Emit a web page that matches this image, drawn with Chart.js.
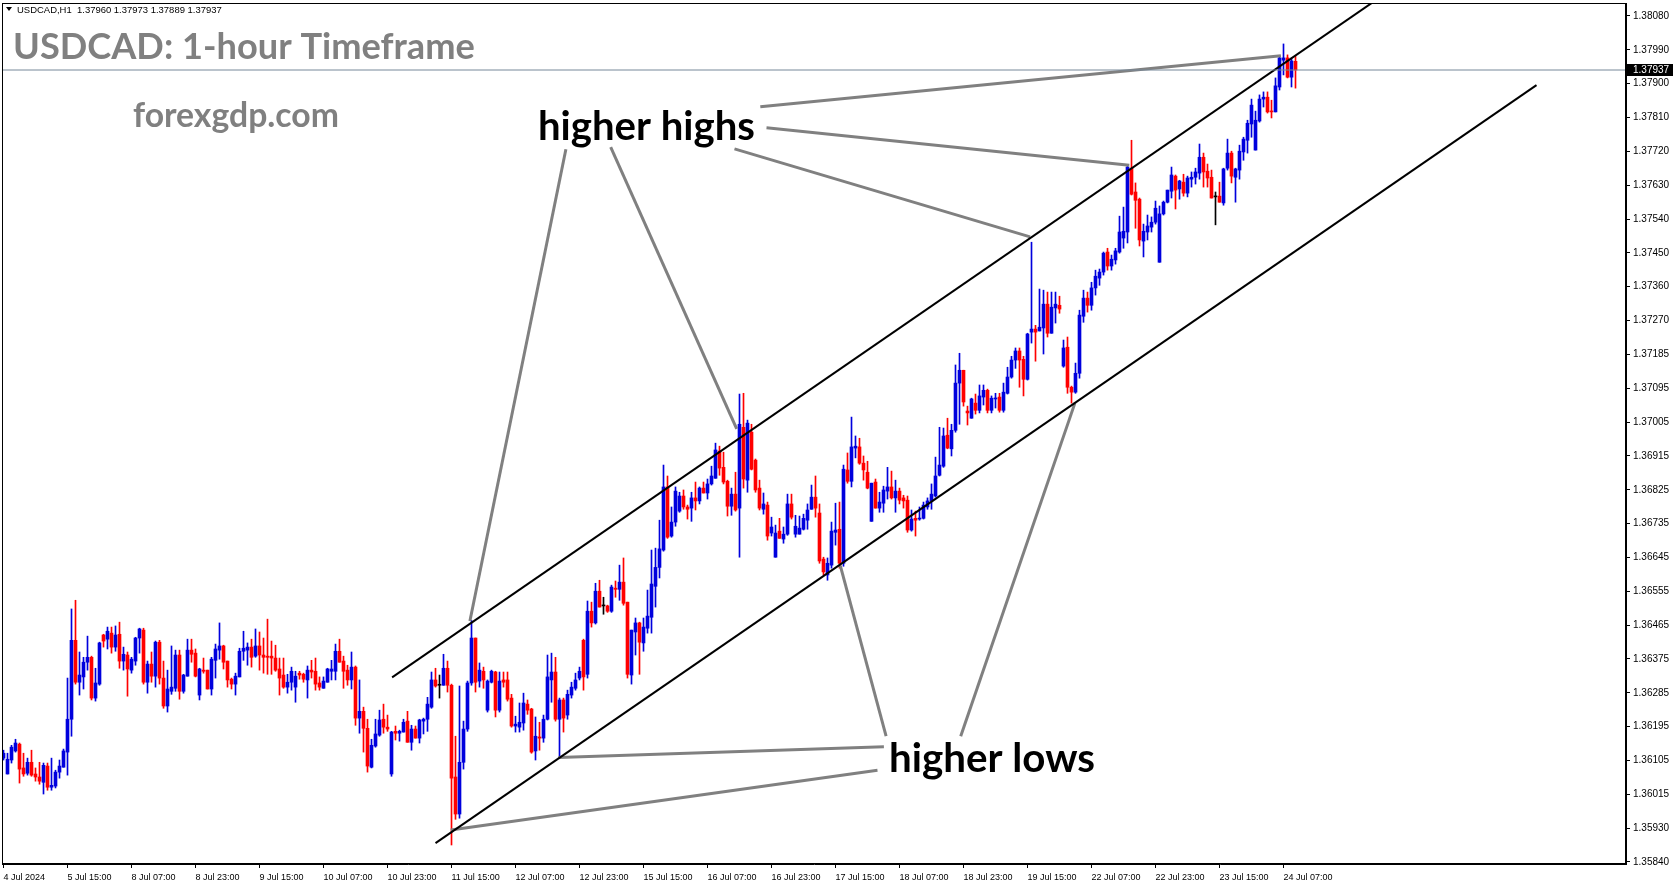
<!DOCTYPE html>
<html>
<head>
<meta charset="utf-8">
<title>USDCAD H1</title>
<script src="https://cdn.jsdelivr.net/npm/chart.js@4.4.1/dist/chart.umd.min.js"></script>
<style>
  html, body { margin: 0; padding: 0; background: #fff; }
  #chart { display: block; }
</style>
</head>
<body>
<canvas id="chart" width="1673" height="888"></canvas>
<script>
// one time label every 16 hourly bars, first bar = 4 Jul 23:00
const labelStep = 16;
const timeLabels = ['4 Jul 2024', '5 Jul 15:00', '8 Jul 07:00', '8 Jul 23:00', '9 Jul 15:00', '10 Jul 07:00',
  '10 Jul 23:00', '11 Jul 15:00', '12 Jul 07:00', '12 Jul 23:00', '15 Jul 15:00', '16 Jul 07:00',
  '16 Jul 23:00', '17 Jul 15:00', '18 Jul 07:00', '18 Jul 23:00', '19 Jul 15:00', '22 Jul 07:00',
  '22 Jul 23:00', '23 Jul 15:00', '24 Jul 07:00'];

const priceLabels = ['1.38080', '1.37990', '1.37900', '1.37810', '1.37720', '1.37630', '1.37540', '1.37450',
  '1.37360', '1.37270', '1.37185', '1.37095', '1.37005', '1.36915', '1.36825', '1.36735', '1.36645',
  '1.36555', '1.36465', '1.36375', '1.36285', '1.36195', '1.36105', '1.36015', '1.35930', '1.35840'];

// [open, high, low, close]
const candles = [
  [1.36115, 1.36136, 1.36110, 1.36128], [1.36073, 1.36128, 1.36073, 1.36112], [1.36110, 1.36149, 1.36102, 1.36144],
  [1.36134, 1.36165, 1.36131, 1.36155], [1.36152, 1.36155, 1.36049, 1.36086], [1.36089, 1.36128, 1.36067, 1.36073],
  [1.36075, 1.36115, 1.36070, 1.36104], [1.36104, 1.36136, 1.36067, 1.36070], [1.36073, 1.36089, 1.36054, 1.36065],
  [1.36065, 1.36104, 1.36046, 1.36054], [1.36051, 1.36102, 1.36020, 1.36096], [1.36094, 1.36102, 1.36030, 1.36038],
  [1.36038, 1.36115, 1.36030, 1.36043], [1.36041, 1.36083, 1.36036, 1.36078], [1.36078, 1.36110, 1.36062, 1.36094],
  [1.36091, 1.36139, 1.36091, 1.36134], [1.36131, 1.36327, 1.36070, 1.36218], [1.36218, 1.36510, 1.36173, 1.36427],
  [1.36427, 1.36533, 1.36311, 1.36316], [1.36316, 1.36396, 1.36282, 1.36335], [1.36330, 1.36382, 1.36298, 1.36369],
  [1.36369, 1.36438, 1.36348, 1.36382], [1.36382, 1.36385, 1.36269, 1.36274], [1.36274, 1.36353, 1.36266, 1.36314],
  [1.36311, 1.36422, 1.36308, 1.36420], [1.36441, 1.36443, 1.36409, 1.36425], [1.36430, 1.36462, 1.36404, 1.36451],
  [1.36446, 1.36462, 1.36393, 1.36409], [1.36409, 1.36465, 1.36398, 1.36441], [1.36443, 1.36475, 1.36353, 1.36372],
  [1.36372, 1.36409, 1.36348, 1.36390], [1.36388, 1.36396, 1.36279, 1.36351], [1.36348, 1.36382, 1.36340, 1.36377],
  [1.36372, 1.36435, 1.36361, 1.36433], [1.36433, 1.36459, 1.36393, 1.36457], [1.36454, 1.36459, 1.36311, 1.36316],
  [1.36316, 1.36372, 1.36287, 1.36364], [1.36364, 1.36396, 1.36316, 1.36332], [1.36332, 1.36425, 1.36303, 1.36422],
  [1.36422, 1.36427, 1.36311, 1.36327], [1.36327, 1.36372, 1.36247, 1.36253], [1.36253, 1.36348, 1.36237, 1.36298],
  [1.36292, 1.36412, 1.36284, 1.36303], [1.36300, 1.36401, 1.36292, 1.36388], [1.36388, 1.36401, 1.36271, 1.36292],
  [1.36292, 1.36337, 1.36287, 1.36335], [1.36332, 1.36430, 1.36332, 1.36401], [1.36401, 1.36430, 1.36369, 1.36390],
  [1.36393, 1.36404, 1.36330, 1.36332], [1.36282, 1.36353, 1.36269, 1.36351], [1.36348, 1.36380, 1.36340, 1.36345],
  [1.36348, 1.36348, 1.36298, 1.36298], [1.36298, 1.36382, 1.36282, 1.36377], [1.36374, 1.36417, 1.36327, 1.36404],
  [1.36401, 1.36473, 1.36377, 1.36412], [1.36412, 1.36414, 1.36351, 1.36369], [1.36372, 1.36372, 1.36303, 1.36322],
  [1.36324, 1.36327, 1.36298, 1.36311], [1.36311, 1.36340, 1.36282, 1.36332], [1.36330, 1.36406, 1.36330, 1.36398],
  [1.36398, 1.36451, 1.36374, 1.36406], [1.36401, 1.36420, 1.36361, 1.36409], [1.36409, 1.36430, 1.36356, 1.36382],
  [1.36385, 1.36457, 1.36382, 1.36412], [1.36412, 1.36449, 1.36348, 1.36388], [1.36388, 1.36433, 1.36340, 1.36382],
  [1.36385, 1.36483, 1.36337, 1.36382], [1.36385, 1.36425, 1.36337, 1.36380], [1.36380, 1.36414, 1.36345, 1.36348],
  [1.36351, 1.36380, 1.36282, 1.36327], [1.36335, 1.36380, 1.36300, 1.36303], [1.36303, 1.36337, 1.36287, 1.36316],
  [1.36316, 1.36356, 1.36295, 1.36345], [1.36303, 1.36345, 1.36263, 1.36332], [1.36340, 1.36345, 1.36324, 1.36335],
  [1.36337, 1.36340, 1.36316, 1.36324], [1.36322, 1.36359, 1.36274, 1.36348], [1.36348, 1.36374, 1.36327, 1.36343],
  [1.36345, 1.36380, 1.36295, 1.36311], [1.36314, 1.36330, 1.36295, 1.36303], [1.36300, 1.36330, 1.36300, 1.36319],
  [1.36316, 1.36353, 1.36316, 1.36351], [1.36345, 1.36374, 1.36322, 1.36351], [1.36345, 1.36417, 1.36322, 1.36398],
  [1.36398, 1.36430, 1.36369, 1.36369], [1.36372, 1.36385, 1.36300, 1.36345], [1.36348, 1.36361, 1.36308, 1.36322],
  [1.36322, 1.36396, 1.36298, 1.36356], [1.36356, 1.36359, 1.36202, 1.36221], [1.36221, 1.36322, 1.36181, 1.36239],
  [1.36239, 1.36250, 1.36131, 1.36194], [1.36194, 1.36218, 1.36078, 1.36094], [1.36091, 1.36165, 1.36089, 1.36149],
  [1.36147, 1.36218, 1.36144, 1.36179], [1.36176, 1.36242, 1.36173, 1.36216], [1.36218, 1.36258, 1.36181, 1.36197],
  [1.36197, 1.36229, 1.36186, 1.36192], [1.36073, 1.36186, 1.36067, 1.36184], [1.36186, 1.36200, 1.36163, 1.36181],
  [1.36181, 1.36189, 1.36160, 1.36186], [1.36184, 1.36218, 1.36184, 1.36210], [1.36213, 1.36239, 1.36157, 1.36157],
  [1.36157, 1.36202, 1.36136, 1.36192], [1.36192, 1.36200, 1.36168, 1.36168], [1.36168, 1.36218, 1.36155, 1.36216],
  [1.36213, 1.36221, 1.36179, 1.36218], [1.36218, 1.36276, 1.36186, 1.36258], [1.36250, 1.36343, 1.36247, 1.36322],
  [1.36322, 1.36353, 1.36303, 1.36306], [1.36308, 1.36335, 1.36274, 1.36308], [1.36308, 1.36390, 1.36308, 1.36353],
  [1.36353, 1.36372, 1.36290, 1.36308], [1.36308, 1.36311, 1.35885, 1.36062], [1.36065, 1.36173, 1.35953, 1.35967],
  [1.35967, 1.36306, 1.35956, 1.36104], [1.36104, 1.36213, 1.36086, 1.36192], [1.36192, 1.36319, 1.36186, 1.36314],
  [1.36314, 1.36480, 1.36308, 1.36433], [1.36433, 1.36433, 1.36290, 1.36316], [1.36319, 1.36367, 1.36303, 1.36348],
  [1.36345, 1.36356, 1.36300, 1.36322], [1.36242, 1.36322, 1.36237, 1.36319], [1.36316, 1.36348, 1.36314, 1.36345],
  [1.36343, 1.36345, 1.36224, 1.36242], [1.36242, 1.36343, 1.36237, 1.36319], [1.36322, 1.36343, 1.36303, 1.36316],
  [1.36322, 1.36343, 1.36266, 1.36271], [1.36274, 1.36284, 1.36197, 1.36200], [1.36200, 1.36226, 1.36184, 1.36205],
  [1.36197, 1.36261, 1.36184, 1.36210], [1.36208, 1.36287, 1.36189, 1.36261], [1.36258, 1.36269, 1.36231, 1.36242],
  [1.36245, 1.36247, 1.36128, 1.36131], [1.36134, 1.36224, 1.36110, 1.36173], [1.36171, 1.36210, 1.36136, 1.36168],
  [1.36168, 1.36229, 1.36157, 1.36218], [1.36218, 1.36388, 1.36216, 1.36330], [1.36322, 1.36393, 1.36263, 1.36343],
  [1.36343, 1.36382, 1.36213, 1.36218], [1.36218, 1.36274, 1.36118, 1.36269], [1.36269, 1.36274, 1.36184, 1.36221],
  [1.36229, 1.36295, 1.36218, 1.36284], [1.36282, 1.36316, 1.36274, 1.36303], [1.36300, 1.36340, 1.36295, 1.36322],
  [1.36327, 1.36356, 1.36322, 1.36345], [1.36427, 1.36430, 1.36295, 1.36330], [1.36337, 1.36531, 1.36327, 1.36504],
  [1.36504, 1.36528, 1.36462, 1.36473], [1.36473, 1.36578, 1.36470, 1.36557], [1.36557, 1.36586, 1.36515, 1.36515],
  [1.36518, 1.36541, 1.36496, 1.36518], [1.36518, 1.36520, 1.36501, 1.36504], [1.36504, 1.36573, 1.36501, 1.36568],
  [1.36565, 1.36584, 1.36541, 1.36562], [1.36562, 1.36626, 1.36533, 1.36581], [1.36581, 1.36645, 1.36520, 1.36525],
  [1.36528, 1.36528, 1.36327, 1.36337], [1.36335, 1.36454, 1.36311, 1.36454], [1.36449, 1.36486, 1.36388, 1.36473],
  [1.36473, 1.36475, 1.36337, 1.36422], [1.36420, 1.36486, 1.36398, 1.36462], [1.36459, 1.36560, 1.36446, 1.36491],
  [1.36488, 1.36666, 1.36446, 1.36576], [1.36570, 1.36671, 1.36515, 1.36620], [1.36620, 1.36745, 1.36592, 1.36669],
  [1.36666, 1.36891, 1.36663, 1.36833], [1.36833, 1.36862, 1.36697, 1.36700], [1.36703, 1.36780, 1.36700, 1.36740],
  [1.36740, 1.36833, 1.36729, 1.36822], [1.36769, 1.36819, 1.36766, 1.36809], [1.36809, 1.36825, 1.36774, 1.36780],
  [1.36780, 1.36785, 1.36748, 1.36774], [1.36777, 1.36819, 1.36742, 1.36804], [1.36804, 1.36846, 1.36772, 1.36796],
  [1.36796, 1.36833, 1.36788, 1.36830], [1.36830, 1.36846, 1.36817, 1.36817], [1.36817, 1.36854, 1.36801, 1.36841],
  [1.36841, 1.36888, 1.36838, 1.36862], [1.36856, 1.36949, 1.36856, 1.36931], [1.36928, 1.36941, 1.36864, 1.36883],
  [1.36885, 1.36925, 1.36841, 1.36846], [1.36848, 1.36851, 1.36756, 1.36782], [1.36782, 1.36830, 1.36758, 1.36814],
  [1.36814, 1.36872, 1.36769, 1.36772], [1.36777, 1.37079, 1.36647, 1.36999], [1.36991, 1.37081, 1.36830, 1.36854],
  [1.36851, 1.37010, 1.36819, 1.37002], [1.36978, 1.36999, 1.36878, 1.36880], [1.36904, 1.36907, 1.36819, 1.36825],
  [1.36830, 1.36851, 1.36772, 1.36777], [1.36774, 1.36817, 1.36761, 1.36788], [1.36785, 1.36793, 1.36692, 1.36703],
  [1.36711, 1.36753, 1.36703, 1.36727], [1.36647, 1.36732, 1.36647, 1.36711], [1.36716, 1.36750, 1.36697, 1.36697],
  [1.36695, 1.36727, 1.36684, 1.36708], [1.36708, 1.36814, 1.36705, 1.36788], [1.36788, 1.36814, 1.36748, 1.36753],
  [1.36708, 1.36758, 1.36700, 1.36729], [1.36708, 1.36756, 1.36708, 1.36724], [1.36721, 1.36761, 1.36719, 1.36750],
  [1.36745, 1.36788, 1.36721, 1.36772], [1.36774, 1.36838, 1.36774, 1.36806], [1.36806, 1.36862, 1.36753, 1.36777],
  [1.36764, 1.36788, 1.36631, 1.36637], [1.36642, 1.36647, 1.36600, 1.36608], [1.36600, 1.36645, 1.36586, 1.36631],
  [1.36626, 1.36740, 1.36618, 1.36716], [1.36713, 1.36790, 1.36679, 1.36719], [1.36721, 1.36793, 1.36618, 1.36631],
  [1.36631, 1.36891, 1.36623, 1.36880], [1.36878, 1.36923, 1.36843, 1.36848], [1.36848, 1.37018, 1.36833, 1.36939],
  [1.36936, 1.36968, 1.36910, 1.36941], [1.36939, 1.36962, 1.36893, 1.36896], [1.36896, 1.36915, 1.36851, 1.36878],
  [1.36872, 1.36901, 1.36828, 1.36830], [1.36742, 1.36843, 1.36742, 1.36843], [1.36846, 1.36854, 1.36777, 1.36777],
  [1.36777, 1.36819, 1.36766, 1.36793], [1.36790, 1.36835, 1.36766, 1.36825], [1.36822, 1.36885, 1.36801, 1.36833],
  [1.36833, 1.36875, 1.36801, 1.36804], [1.36804, 1.36851, 1.36766, 1.36822], [1.36822, 1.36830, 1.36788, 1.36798],
  [1.36804, 1.36811, 1.36777, 1.36796], [1.36798, 1.36809, 1.36713, 1.36719], [1.36719, 1.36772, 1.36716, 1.36748],
  [1.36750, 1.36769, 1.36703, 1.36745], [1.36748, 1.36780, 1.36745, 1.36750], [1.36750, 1.36793, 1.36748, 1.36785],
  [1.36780, 1.36804, 1.36774, 1.36796], [1.36796, 1.36841, 1.36774, 1.36814], [1.36809, 1.36912, 1.36806, 1.36862],
  [1.36864, 1.36991, 1.36862, 1.36891], [1.36888, 1.36989, 1.36885, 1.36968], [1.36970, 1.37015, 1.36934, 1.36936],
  [1.36934, 1.36999, 1.36915, 1.36983], [1.36983, 1.37156, 1.36978, 1.37108], [1.37108, 1.37187, 1.36999, 1.37142],
  [1.37142, 1.37142, 1.37047, 1.37058], [1.37034, 1.37047, 1.36997, 1.37029], [1.37015, 1.37068, 1.37015, 1.37066],
  [1.37055, 1.37079, 1.37026, 1.37036], [1.37036, 1.37103, 1.37029, 1.37074], [1.37071, 1.37103, 1.37050, 1.37089],
  [1.37089, 1.37092, 1.37029, 1.37036], [1.37036, 1.37074, 1.37029, 1.37068], [1.37066, 1.37081, 1.37042, 1.37068],
  [1.37071, 1.37081, 1.37031, 1.37036], [1.37036, 1.37108, 1.37031, 1.37084], [1.37081, 1.37150, 1.37079, 1.37124],
  [1.37124, 1.37179, 1.37121, 1.37169], [1.37169, 1.37201, 1.37147, 1.37193], [1.37193, 1.37201, 1.37097, 1.37169],
  [1.37171, 1.37179, 1.37074, 1.37118], [1.37118, 1.37240, 1.37116, 1.37238], [1.37243, 1.37481, 1.37214, 1.37251],
  [1.37251, 1.37261, 1.37166, 1.37243], [1.37246, 1.37357, 1.37246, 1.37256], [1.37254, 1.37354, 1.37185, 1.37317],
  [1.37317, 1.37349, 1.37230, 1.37240], [1.37240, 1.37349, 1.37240, 1.37309], [1.37307, 1.37349, 1.37267, 1.37317],
  [1.37314, 1.37338, 1.37293, 1.37304], [1.37153, 1.37222, 1.37150, 1.37201], [1.37203, 1.37230, 1.37081, 1.37097],
  [1.37097, 1.37100, 1.37055, 1.37084], [1.37084, 1.37161, 1.37081, 1.37134], [1.37134, 1.37301, 1.37121, 1.37288],
  [1.37285, 1.37354, 1.37269, 1.37333], [1.37333, 1.37349, 1.37296, 1.37314], [1.37314, 1.37375, 1.37301, 1.37360],
  [1.37360, 1.37407, 1.37341, 1.37391], [1.37386, 1.37410, 1.37367, 1.37402], [1.37402, 1.37455, 1.37394, 1.37452],
  [1.37455, 1.37465, 1.37407, 1.37418], [1.37418, 1.37447, 1.37407, 1.37436], [1.37434, 1.37465, 1.37423, 1.37458],
  [1.37455, 1.37550, 1.37452, 1.37508], [1.37492, 1.37574, 1.37465, 1.37510], [1.37508, 1.37685, 1.37479, 1.37680],
  [1.37677, 1.37751, 1.37606, 1.37608], [1.37614, 1.37638, 1.37518, 1.37592], [1.37595, 1.37598, 1.37471, 1.37487],
  [1.37484, 1.37529, 1.37442, 1.37510], [1.37508, 1.37553, 1.37487, 1.37524], [1.37521, 1.37548, 1.37508, 1.37534],
  [1.37534, 1.37590, 1.37529, 1.37571], [1.37428, 1.37577, 1.37428, 1.37556], [1.37556, 1.37590, 1.37553, 1.37587],
  [1.37587, 1.37619, 1.37585, 1.37619], [1.37616, 1.37680, 1.37598, 1.37659], [1.37656, 1.37659, 1.37569, 1.37619],
  [1.37622, 1.37645, 1.37595, 1.37643], [1.37640, 1.37661, 1.37603, 1.37611], [1.37611, 1.37656, 1.37601, 1.37651],
  [1.37648, 1.37667, 1.37627, 1.37653], [1.37653, 1.37677, 1.37635, 1.37667], [1.37664, 1.37741, 1.37648, 1.37706],
  [1.37706, 1.37717, 1.37627, 1.37667], [1.37669, 1.37688, 1.37627, 1.37651], [1.37653, 1.37672, 1.37598, 1.37598],
  [1.37601, 1.37614, 1.37527, 1.37601], [1.37603, 1.37640, 1.37587, 1.37587], [1.37585, 1.37677, 1.37579, 1.37675],
  [1.37677, 1.37754, 1.37672, 1.37717], [1.37717, 1.37722, 1.37638, 1.37656], [1.37653, 1.37677, 1.37587, 1.37675],
  [1.37672, 1.37738, 1.37648, 1.37722], [1.37720, 1.37759, 1.37698, 1.37754], [1.37751, 1.37804, 1.37717, 1.37796],
  [1.37794, 1.37860, 1.37759, 1.37844], [1.37725, 1.37828, 1.37725, 1.37804], [1.37802, 1.37871, 1.37799, 1.37860],
  [1.37860, 1.37879, 1.37839, 1.37865], [1.37865, 1.37879, 1.37823, 1.37826], [1.37828, 1.37857, 1.37810, 1.37826],
  [1.37826, 1.37916, 1.37826, 1.37895], [1.37892, 1.37974, 1.37884, 1.37969], [1.37963, 1.38006, 1.37924, 1.37969],
  [1.37969, 1.37977, 1.37916, 1.37918], [1.37918, 1.37969, 1.37892, 1.37961], [1.37960, 1.37973, 1.37889, 1.37937]
];

// trend channel, [bar index, price]
const upperChannel = [[97.15, 1.36329], [342, 1.38114]];
const lowerChannel = [[108, 1.35890], [383.25, 1.37897]];

// pointer lines from the labels to the swing points
const highPointers = [
  [[140.6, 1.37727], [116.6, 1.36478]],
  [[151.8, 1.37733], [183.3, 1.36987]],
  [[182.75, 1.37728], [256.65, 1.37495]],
  [[190.75, 1.37784], [281.45, 1.37685]],
  [[189.2, 1.37840], [319.35, 1.37975]]
];
const lowPointers = [
  [[220.1, 1.36145], [138.75, 1.36117]],
  [[218.5, 1.36083], [111.8, 1.35925]],
  [[220.65, 1.36173], [209.2, 1.36625]],
  [[239.3, 1.36173], [267.85, 1.37055]]
];

const BULL = '#0000dd';
const BEAR = '#ff0000';
const POINTER = '#808080';

const last = candles[candles.length - 1];
const xMin = -0.375, xMax = 405.625;
const yMax = 1.381144, yMin = 1.358347;

function candleColor(c) {
  if (c[3] > c[0]) return BULL;
  if (c[3] < c[0]) return BEAR;
  return '#000000';
}
const colors = candles.map(candleColor);

function segment(pts, color, width) {
  return {
    type: 'line',
    data: pts.map(p => ({ x: p[0], y: p[1] })),
    borderColor: color,
    borderWidth: width,
    pointRadius: 0,
    tension: 0,
    order: 0
  };
}

function fitText(ctx, text, weight, family, left, right, baseline, color) {
  ctx.font = weight + ' 100px ' + family;
  const w = ctx.measureText(text).width;
  const size = 100 * (right - left) / w;
  ctx.font = weight + ' ' + size.toFixed(2) + 'px ' + family;
  ctx.fillStyle = color;
  ctx.textBaseline = 'alphabetic';
  ctx.textAlign = 'left';
  ctx.fillText(text, left, baseline);
}

// no extra room round the axes: the plot box is fixed
function noPadding(s) {
  s.paddingTop = 0;
  s.paddingBottom = 0;
  s.paddingLeft = 0;
  s.paddingRight = 0;
}

const overlay = {
  id: 'overlay',
  afterDraw(chart) {
    const { ctx, chartArea: a, scales: { y } } = chart;
    ctx.save();

    // frame
    ctx.strokeStyle = '#000';
    ctx.lineWidth = 1;
    ctx.strokeRect(a.left + 0.5, a.top + 0.5, a.right - a.left - 1, a.bottom - a.top - 1);

    // symbol line
    ctx.beginPath();
    ctx.moveTo(6, 7); ctx.lineTo(12, 7); ctx.lineTo(9, 11); ctx.closePath();
    ctx.fillStyle = '#000';
    ctx.fill();
    const header = 'USDCAD,H1  ' + last.map(v => v.toFixed(5)).join(' ');
    fitText(ctx, header, 'normal', '"Liberation Sans"', 17, 222, 13, '#000');

    // titles
    fitText(ctx, 'USDCAD: 1-hour Timeframe', 'bold', 'Lato', 13, 475, 58.5, '#808080');
    fitText(ctx, 'forexgdp.com', 'bold', 'Lato', 133, 339, 127, '#808080');
    fitText(ctx, 'higher highs', 'bold', 'Lato', 538, 755, 139.5, '#000');
    fitText(ctx, 'higher lows', 'bold', 'Lato', 889, 1095, 772, '#000');

    // current price marker on the axis
    const py = Math.round(y.getPixelForValue(last[3]));
    ctx.fillStyle = '#000';
    ctx.fillRect(a.right + 1, py - 6, chart.width - a.right - 1, 12);
    ctx.fillStyle = '#fff';
    ctx.font = '10px "Liberation Sans"';
    ctx.textBaseline = 'middle';
    ctx.fillText(last[3].toFixed(5), a.right + 7, py + 0.5);
    ctx.restore();
  }
};

Chart.defaults.font.family = '"Liberation Sans", Arial, sans-serif';
Chart.defaults.color = '#000';

const datasets = [
  {
    type: 'bar',
    data: candles.map((c, i) => ({ x: i, y: [c[0], c[3]] })),
    backgroundColor: colors,
    barThickness: 3,
    maxBarThickness: 3,
    minBarLength: 1,
    grouped: false,
    borderWidth: 0,
    order: 1
  },
  {
    type: 'bar',
    data: candles.map((c, i) => ({ x: i, y: [c[2], c[1]] })),
    backgroundColor: colors,
    barThickness: 1,
    maxBarThickness: 1,
    grouped: false,
    borderWidth: 0,
    order: 2
  },
  segment([[xMin, last[3]], [xMax, last[3]]], '#778899', 1),
  segment(upperChannel, '#000', 2),
  segment(lowerChannel, '#000', 2)
];
highPointers.concat(lowPointers).forEach(p => datasets.push(segment(p, POINTER, 3)));

new Chart(document.getElementById('chart'), {
  type: 'bar',
  data: { datasets },
  options: {
    responsive: false,
    animation: false,
    devicePixelRatio: 1,
    layout: { padding: { left: 2, top: 3, right: 0, bottom: 0 } },
    plugins: { legend: { display: false }, tooltip: { enabled: false } },
    scales: {
      x: {
        type: 'linear',
        min: xMin,
        max: xMax,
        offset: false,
        afterFit: s => { s.height = 24; noPadding(s); },
        afterBuildTicks: s => { s.ticks = timeLabels.map((_, k) => ({ value: k * labelStep })); },
        grid: { display: true, drawOnChartArea: false, drawTicks: true, tickLength: 4, color: '#000', offset: false },
        border: { display: true, color: '#000' },
        ticks: {
          callback: (v, k) => timeLabels[k],
          align: 'start',
          autoSkip: false,
          maxRotation: 0,
          padding: 4,
          font: { size: 9 }
        }
      },
      y: {
        position: 'right',
        min: yMin,
        max: yMax,
        bounds: 'data',
        afterFit: s => { s.width = 47; noPadding(s); },
        afterBuildTicks: s => {
          const top = +priceLabels[0];
          const bot = +priceLabels[priceLabels.length - 1];
          const step = (top - bot) / (priceLabels.length - 1);
          s.ticks = priceLabels.map((_, k) => ({ value: top - k * step }));
        },
        grid: { display: true, drawOnChartArea: false, drawTicks: true, tickLength: 4, color: '#000' },
        border: { display: true, color: '#000' },
        ticks: {
          callback: (v, k) => priceLabels[k],
          autoSkip: false,
          padding: 3,
          font: { size: 10 }
        }
      }
    }
  },
  plugins: [overlay]
});
</script>
</body>
</html>
